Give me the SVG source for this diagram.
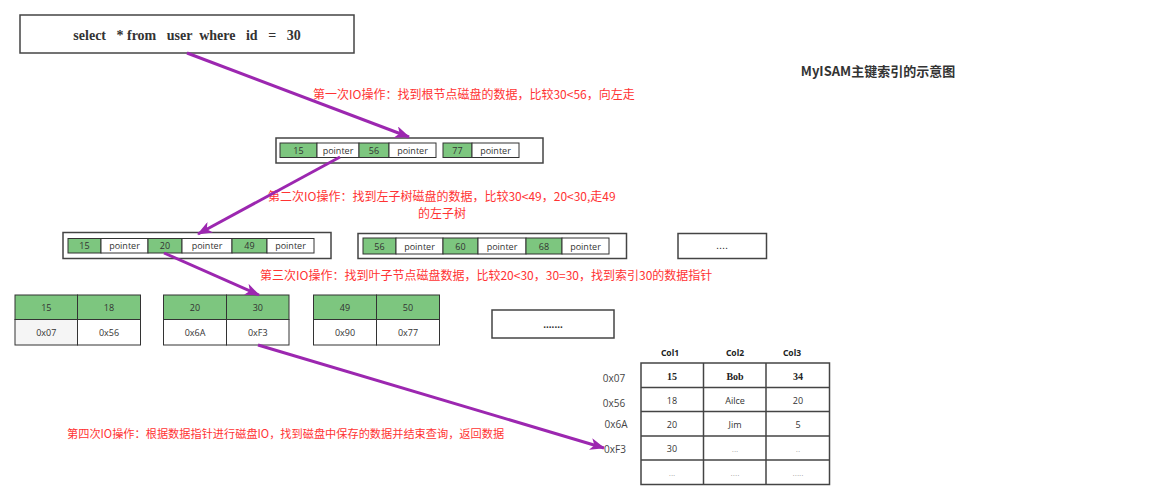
<svg xmlns="http://www.w3.org/2000/svg" width="1157" height="500" viewBox="0 0 1157 500">
<defs>
<marker id="ah" markerWidth="16" markerHeight="12" refX="14" refY="6" orient="auto" markerUnits="userSpaceOnUse">
<path d="M0,0 L15,6 L0,12 L4,6 Z" fill="#9C27B0"/>
</marker>
<style>
.box{fill:#fff;stroke:#444;stroke-width:1.5}
.g{fill:#7DC67F;stroke:#333;stroke-width:1}
.w{fill:#fff;stroke:#333;stroke-width:1}
.t{font-family:"Open Sans","Noto Sans",sans-serif;font-size:9px;fill:#333;text-anchor:middle;dominant-baseline:central}
.red{font-family:"Noto Sans CJK SC","Noto Sans",sans-serif;font-size:12px;fill:#FF3333}
.arrow{stroke:#9C27B0;stroke-width:3;fill:none;marker-end:url(#ah)}
.hdr{font-family:"Noto Sans","Liberation Sans",sans-serif;font-size:8.5px;font-weight:bold;fill:#222;text-anchor:middle;dominant-baseline:central}
.lbl{font-family:"Open Sans","Noto Sans",sans-serif;font-size:10px;fill:#444;text-anchor:middle;dominant-baseline:central}
.tb{font-family:"Liberation Serif",serif;font-size:10px;font-weight:bold;fill:#222;text-anchor:middle;dominant-baseline:central}
.dots{font-family:"Liberation Sans",sans-serif;font-size:8px;fill:#999;text-anchor:middle}
.cell{fill:#fff;stroke:#444;stroke-width:1.5}
</style>
</defs>
<rect width="1157" height="500" fill="#fff"/>

<g id="query">
<rect class="box" x="20" y="15" width="334" height="38"/>
<text x="187" y="35" text-anchor="middle" dominant-baseline="central" style="font-family:'Liberation Serif',serif;font-size:14px;font-weight:bold;fill:#333;white-space:pre" xml:space="preserve">select   * from   user  where   id   =   30</text>
</g>

<g id="title">
<text x="878" y="70" text-anchor="middle" dominant-baseline="central" style="font-family:'Noto Sans CJK SC','Noto Sans',sans-serif;font-size:13px;font-weight:bold;fill:#333">MyISAM主键索引的示意图</text>
</g>

<g id="root">
<rect class="box" x="276" y="138" width="267" height="25"/>
<rect class="g" x="280" y="143" width="37" height="14.5"/><text class="t" x="298.5" y="150.3">15</text>
<rect class="w" x="317" y="143" width="42" height="14.5"/><text class="t" x="338" y="150.3">pointer</text>
<rect class="g" x="359" y="143" width="30" height="14.5"/><text class="t" x="374" y="150.3">56</text>
<rect class="w" x="389" y="143" width="47" height="14.5"/><text class="t" x="412.5" y="150.3">pointer</text>
<rect class="g" x="443" y="143" width="29" height="14.5"/><text class="t" x="457.5" y="150.3">77</text>
<rect class="w" x="472" y="143" width="47" height="14.5"/><text class="t" x="495.5" y="150.3">pointer</text>
</g>

<g id="level2-left">
<rect class="box" x="63" y="232.5" width="268" height="26"/>
<rect class="g" x="68" y="238.5" width="33" height="14.5"/><text class="t" x="84.5" y="245.8">15</text>
<rect class="w" x="101" y="238.5" width="47" height="14.5"/><text class="t" x="124.5" y="245.8">pointer</text>
<rect class="g" x="148" y="238.5" width="34" height="14.5"/><text class="t" x="165" y="245.8">20</text>
<rect class="w" x="182" y="238.5" width="50" height="14.5"/><text class="t" x="207" y="245.8">pointer</text>
<rect class="g" x="232" y="238.5" width="35" height="14.5"/><text class="t" x="249.5" y="245.8">49</text>
<rect class="w" x="267" y="238.5" width="47" height="14.5"/><text class="t" x="290.5" y="245.8">pointer</text>
</g>

<g id="level2-mid">
<rect class="box" x="358" y="233.5" width="268.5" height="25"/>
<rect class="g" x="363" y="238" width="33" height="16"/><text class="t" x="379.5" y="246">56</text>
<rect class="w" x="396" y="238" width="47" height="16"/><text class="t" x="419.5" y="246">pointer</text>
<rect class="g" x="443" y="238" width="35" height="16"/><text class="t" x="460.5" y="246">60</text>
<rect class="w" x="478" y="238" width="48" height="16"/><text class="t" x="502" y="246">pointer</text>
<rect class="g" x="526" y="238" width="36" height="16"/><text class="t" x="544" y="246">68</text>
<rect class="w" x="562" y="238" width="47" height="16"/><text class="t" x="585.5" y="246">pointer</text>
</g>

<g id="level2-more">
<rect class="box" x="678" y="233.5" width="88.5" height="25"/>
<text x="722" y="249" text-anchor="middle" style="font-family:'Liberation Sans',sans-serif;font-size:11px;fill:#333">....</text>
</g>

<g id="leaf1">
<rect class="g" x="15" y="295" width="62.5" height="24.5"/><text class="t" x="46.3" y="307.3">15</text>
<rect class="g" x="77.5" y="295" width="63" height="24.5"/><text class="t" x="109" y="307.3">18</text>
<rect x="15" y="319.5" width="62.5" height="25.5" fill="#F5F5F5" stroke="#333"/><text class="t" x="46.3" y="332.3">0x07</text>
<rect class="w" x="77.5" y="319.5" width="63" height="25.5"/><text class="t" x="109" y="332.3">0x56</text>
</g>

<g id="leaf2">
<rect class="g" x="163.5" y="295" width="63" height="24.5"/><text class="t" x="195" y="307.3">20</text>
<rect class="g" x="226.5" y="295" width="62.5" height="24.5"/><text class="t" x="257.8" y="307.3">30</text>
<rect class="w" x="163.5" y="319.5" width="63" height="25.5"/><text class="t" x="195" y="332.3">0x6A</text>
<rect class="w" x="226.5" y="319.5" width="62.5" height="25.5"/><text class="t" x="257.8" y="332.3">0xF3</text>
</g>

<g id="leaf3">
<rect class="g" x="313.5" y="295" width="63" height="24.5"/><text class="t" x="345" y="307.3">49</text>
<rect class="g" x="376.5" y="295" width="63" height="24.5"/><text class="t" x="408" y="307.3">50</text>
<rect class="w" x="313.5" y="319.5" width="63" height="25.5"/><text class="t" x="345" y="332.3">0x90</text>
<rect class="w" x="376.5" y="319.5" width="63" height="25.5"/><text class="t" x="408" y="332.3">0x77</text>
</g>

<g id="leaf-more">
<rect class="box" x="492" y="310" width="122" height="28"/>
<text x="553" y="328" text-anchor="middle" style="font-family:'Liberation Sans',sans-serif;font-size:10px;font-weight:bold;fill:#333">.......</text>
</g>

<g id="table">
<text class="hdr" x="670" y="352">Col1</text>
<text class="hdr" x="735" y="352">Col2</text>
<text class="hdr" x="792" y="352">Col3</text>
<text class="lbl" x="614" y="378">0x07</text>
<text class="lbl" x="614" y="403">0x56</text>
<text class="lbl" x="616" y="424">0x6A</text>
<text class="lbl" x="615" y="449">0xF3</text>
<rect class="cell" x="641" y="363" width="188.5" height="121.5"/>
<line x1="703.5" y1="363" x2="703.5" y2="484.5" stroke="#444" stroke-width="1.5"/>
<line x1="766" y1="363" x2="766" y2="484.5" stroke="#444" stroke-width="1.5"/>
<line x1="641" y1="387.5" x2="829.5" y2="387.5" stroke="#444" stroke-width="1.5"/>
<line x1="641" y1="411.5" x2="829.5" y2="411.5" stroke="#444" stroke-width="1.5"/>
<line x1="641" y1="436" x2="829.5" y2="436" stroke="#444" stroke-width="1.5"/>
<line x1="641" y1="460" x2="829.5" y2="460" stroke="#444" stroke-width="1.5"/>
<text class="tb" x="672" y="376">15</text>
<text class="tb" x="735" y="376">Bob</text>
<text class="tb" x="798" y="376">34</text>
<text class="t" x="672" y="400">18</text>
<text class="t" x="735" y="400">Ailce</text>
<text class="t" x="798" y="400">20</text>
<text class="t" x="672" y="424">20</text>
<text class="t" x="735" y="424">Jim</text>
<text class="t" x="798" y="424">5</text>
<text class="t" x="672" y="448">30</text>
<text class="dots" x="735" y="452">...</text>
<text class="dots" x="798" y="452">..</text>
<text class="dots" x="672" y="476">...</text>
<text class="dots" x="735" y="476">....</text>
<text class="dots" x="798" y="476">.....</text>
</g>

<g id="labels">
<text class="red" x="313" y="99">第一次IO操作：找到根节点磁盘的数据，比较30&lt;56，向左走</text>
<text class="red" x="268" y="201">第二次IO操作：找到左子树磁盘的数据，比较30&lt;49，20&lt;30,走49</text>
<text class="red" x="442" y="218" text-anchor="middle">的左子树</text>
<text class="red" x="260" y="280">第三次IO操作：找到叶子节点磁盘数据，比较20&lt;30，30=30，找到索引30的数据指针</text>
<text class="red" x="67" y="438" style="font-size:11.2px">第四次IO操作：根据数据指针进行磁盘IO，找到磁盘中保存的数据并结束查询，返回数据</text>
</g>

<g id="connectors">
<line class="arrow" x1="187" y1="53" x2="409" y2="137"/>
<line class="arrow" x1="340" y1="157" x2="198" y2="234"/>
<line class="arrow" x1="164" y1="253" x2="259" y2="295"/>
<line class="arrow" x1="258" y1="345" x2="604" y2="448"/>
</g>
</svg>
